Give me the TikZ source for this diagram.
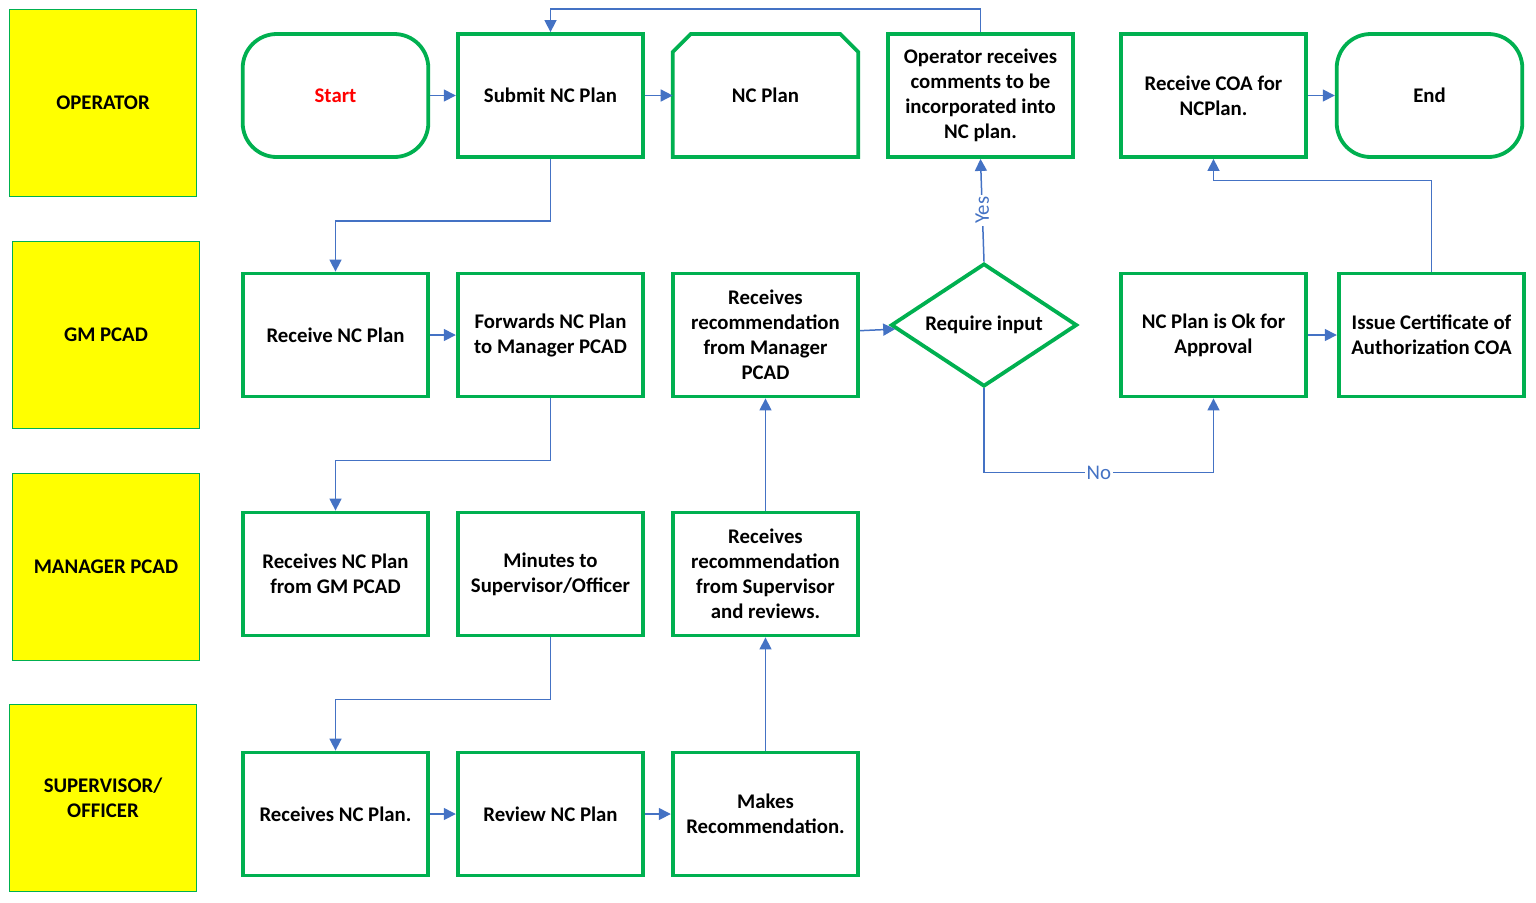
\documentclass[tikz,border=0pt]{standalone}
\usepackage{fontspec}
\setmainfont{Carlito}
\usetikzlibrary{shapes.geometric,arrows.meta,calc}
\definecolor{ncLane}{HTML}{FFFF00}
\definecolor{ncEdge}{HTML}{00B050}
\definecolor{ncFlow}{HTML}{4472C4}
\definecolor{ncStart}{HTML}{FF0000}
\tikzset{
  nclane/.style={draw=ncEdge,line width=0.6pt,fill=ncLane,minimum width=93.5pt,minimum height=93.5pt,
                 align=center,inner sep=2pt,font=\fontsize{10.4}{12.5}\selectfont\bfseries},
  ncbox/.style={draw=ncEdge,line width=1.9pt,fill=white,minimum width=92.8pt,minimum height=61.5pt,
                align=center,inner sep=2pt,font=\fontsize{10.4}{12.5}\selectfont\bfseries},
  ncterm/.style={ncbox,rounded corners=17pt},
  ncdoc/.style={ncbox,draw=none,outer sep=0pt},
  ncgate/.style={ncbox,diamond,aspect=1.5,inner sep=0pt,minimum width=93pt,minimum height=61.5pt},
  ncflow/.style={-{Triangle[length=6pt,width=6pt]},draw=ncFlow,line width=0.75pt},
  nclbl/.style={font=\fontsize{10.4}{11}\selectfont,text=ncFlow,fill=white,inner sep=1pt},
}

\begin{document}
\begin{tikzpicture}[x=0.5pt,y=-0.5pt]
  \useasboundingbox (0,0) rectangle (1536,902);
  % swim lane labels
  \node[nclane] (lop)  at (103,103) {OPERATOR};
  \node[nclane] (lgm)  at (106,335) {GM PCAD};
  \node[nclane] (lmgr) at (106,567) {MANAGER PCAD};
  \node[nclane] (lsup) at (103,798) {SUPERVISOR/\\OFFICER};

  % operator row
  \node[ncterm,text=ncStart] (start) at (335.5,95.5) {Start};
  \node[ncbox] (submit) at (550.5,95.5) {Submit NC Plan};
  \node[ncdoc] (ncp) at (765.5,95.5) {NC Plan};
  \draw[draw=ncEdge,line width=1.9pt,line join=miter] (ncp.south west) -- ($(ncp.north west)+(0,18)$)
        -- ($(ncp.north west)+(18,0)$) -- ($(ncp.north east)+(-18,0)$)
        -- ($(ncp.north east)+(0,18)$) -- (ncp.south east) -- cycle;
  \node[ncbox] (oprec) at (980.5,95.5) {Operator receives\\comments to be\\incorporated into\\NC plan.};
  \node[ncbox] (coa) at (1213.5,95.5) {Receive COA for\\NCPlan.};
  \node[ncterm] (end) at (1429.5,95.5) {End};

  % GM PCAD row
  \node[ncbox] (recv) at (335.5,335) {Receive NC Plan};
  \node[ncbox] (fwd) at (550.5,335) {Forwards NC Plan\\to Manager PCAD};
  \node[ncbox] (mgrrec) at (765.5,335) {Receives\\recommendation\\from Manager\\PCAD};
  \node[ncgate] (req) at (984,325) {Require input};
  \node[ncbox] (ok) at (1213.5,335) {NC Plan is Ok for\\Approval};
  \node[ncbox] (issue) at (1431.5,335) {Issue Certificate of\\Authorization COA};

  % manager row
  \node[ncbox] (gmrecv) at (335.5,574) {Receives NC Plan\\from GM PCAD};
  \node[ncbox] (minutes) at (550.5,574) {Minutes to\\Supervisor/Officer};
  \node[ncbox] (suprec) at (765.5,574) {Receives\\recommendation\\from Supervisor\\and reviews.};

  % supervisor row
  \node[ncbox] (suprecv) at (335.5,814) {Receives NC Plan.};
  \node[ncbox] (review) at (550.5,814) {Review NC Plan};
  \node[ncbox] (makes) at (765.5,814) {Makes\\Recommendation.};

  \foreach \a/\b in {start/submit,submit/ncp,coa/end,recv/fwd,suprecv/review,review/makes,
                     makes/suprec,suprec/mgrrec,mgrrec/req,ok/issue}{\draw[ncflow] (\a)--(\b);}
  \draw[ncflow] (oprec.north) -- ++(0,-23) -| (submit.north);
  \draw[ncflow] (submit.south) -- ++(0,62) -| (recv.north);
  \draw[ncflow] (fwd.south) -- ++(0,62) -| (gmrecv.north);
  \draw[ncflow] (minutes.south) -- ++(0,62) -| (suprecv.north);
  \draw[ncflow] (req.north) -- node[nclbl,rotate=90]{Yes} (oprec.south);
  \draw[ncflow] (req.south) -- ++(0,84) -| node[nclbl,pos=0.25]{No} (ok.south);
  \draw[ncflow] (issue.north) -- ++(0,-91) -| (coa.south);
\end{tikzpicture}
\end{document}
